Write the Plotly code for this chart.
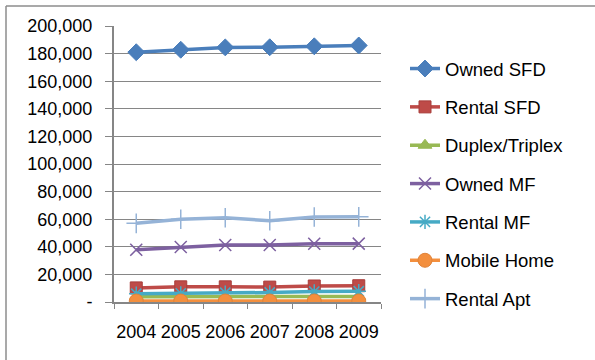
import plotly.graph_objects as go

# Housing units by type, 2004-2009
years = ["2004", "2005", "2006", "2007", "2008", "2009"]
owned_sfd = [181000, 182800, 184500, 184600, 185300, 185900]
rental_sfd = [10200, 11000, 11000, 10800, 11600, 11800]
duplex_triplex = [3800, 3800, 3900, 3900, 4000, 4000]
owned_mf = [37800, 39800, 41300, 41300, 42200, 42300]
rental_mf = [6000, 6200, 6700, 6900, 7600, 7800]
mobile_home = [700, 700, 700, 700, 700, 700]
rental_apt = [57000, 60000, 61000, 58900, 61600, 61700]

y_tick_vals = [0, 20000, 40000, 60000, 80000, 100000, 120000, 140000, 160000, 180000, 200000]
y_tick_text = ["-", "20,000", "40,000", "60,000", "80,000", "100,000",
               "120,000", "140,000", "160,000", "180,000", "200,000"]

series = [
    ("Owned SFD", owned_sfd, "#4A7EBB", "diamond", 13, "#4A7EBB", 1),
    ("Rental SFD", rental_sfd, "#BE4B48", "square", 12, "#A83E3B", 1),
    ("Duplex/Triplex", duplex_triplex, "#98B954", "triangle-up", 12, "#98B954", 1),
    ("Owned MF", owned_mf, "#7D60A0", "x-thin", 12, "#7D60A0", 1.5),
    ("Rental MF", rental_mf, "#46AAC5", "asterisk-open", 12, "#46AAC5", 1.5),
    ("Mobile Home", mobile_home, "#F38F3E", "circle", 14, "#E0833A", 1),
    ("Rental Apt", rental_apt, "#95B3D7", "cross-thin", 14, "#95B3D7", 1.5),
]

W, H = 595, 360
ML, MR, MT, MB = 114, 214, 26, 58
PW, PH = W - ML - MR, H - MT - MB

fig = go.Figure()
for i, (name, vals, col, sym, size, lcol, lw) in enumerate(series):
    fig.add_trace(go.Scatter(
        x=years, y=vals, name=name, mode="lines+markers",
        legendgroup=f"g{i}",
        line=dict(color=col, width=3.5),
        marker=dict(symbol=sym, size=size, color=col,
                    line=dict(color=lcol, width=lw)),
    ))

font = dict(family="Liberation Sans, Arial, sans-serif", size=18, color="#000000")
legend_font = dict(family="Liberation Sans, Arial, sans-serif", size=18.5, color="#000000")
axis_gray = "#868686"

fig.update_layout(
    width=W, height=H,
    margin=dict(l=ML, r=MR, t=MT, b=MB),
    paper_bgcolor="white", plot_bgcolor="white",
    font=font,
    showlegend=True,
    legend=dict(
        x=(405 - ML) / PW, xanchor="left",
        y=1 - (50 - MT) / PH, yanchor="top",
        traceorder="grouped", tracegroupgap=11.3,
        font=legend_font, bgcolor="rgba(0,0,0,0)",
        itemwidth=30, maxheight=340,
    ),
    xaxis=dict(
        type="category", range=[-0.5, 5.5],
        showline=True, linecolor=axis_gray, linewidth=2,
        ticks="outside", ticklen=5, tickcolor=axis_gray, tickwidth=1,
        tickson="boundaries", showgrid=False, zeroline=False,
        tickangle=0, ticklabelstandoff=12,
    ),
    yaxis=dict(
        range=[0, 200000], tickvals=y_tick_vals, ticktext=y_tick_text,
        showline=True, linecolor=axis_gray, linewidth=2,
        ticks="outside", ticklen=7, tickcolor=axis_gray, tickwidth=1,
        showgrid=True, gridcolor=axis_gray, gridwidth=1, zeroline=False,
        ticklabelstandoff=9,
    ),
    shapes=[
        dict(type="line", xref="paper", yref="paper",
             x0=(6 - ML) / PW, x1=(W + 5 - ML) / PW,
             y0=1 + (MT - 6) / PH, y1=1 + (MT - 6) / PH,
             line=dict(color="#8C8C8C", width=1.5)),
        dict(type="line", xref="paper", yref="paper",
             x0=(6 - ML) / PW, x1=(6 - ML) / PW,
             y0=1 + (MT - 6) / PH, y1=-(MB + 5) / PH,
             line=dict(color="#8C8C8C", width=1.5)),
    ],
)

fig.write_html("out.html")
